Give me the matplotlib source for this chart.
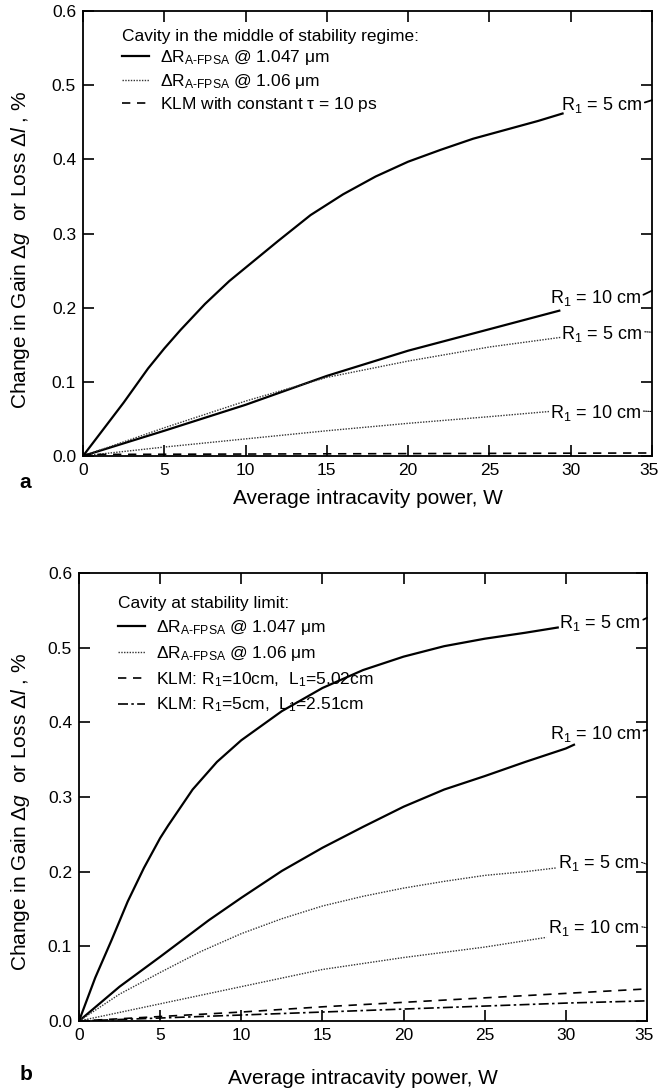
import matplotlib
matplotlib.use("Agg")
import matplotlib.pyplot as plt
import matplotlib.transforms as mtransforms

plt.rcParams['font.family'] = ['Liberation Sans', 'DejaVu Sans']
plt.rcParams['mathtext.fontset'] = 'custom'
plt.rcParams['mathtext.rm'] = 'Liberation Sans'
plt.rcParams['mathtext.it'] = 'Liberation Sans:italic'
plt.rcParams['mathtext.bf'] = 'Liberation Sans:bold'

# ---------------- Panel a data ----------------
a_x_r5_solid = [0, 2.5, 4, 5, 6, 7.5, 9, 10, 12, 14, 16, 18, 20, 22, 24, 26, 28, 29.5]
a_y_r5_solid = [0, 0.072, 0.118, 0.145, 0.17, 0.205, 0.236, 0.254, 0.29, 0.325, 0.353, 0.377, 0.397, 0.413, 0.428, 0.44, 0.452, 0.462]
a_x_r10_solid = [0, 5, 10, 15, 20, 25, 29.3]
a_y_r10_solid = [0, 0.034, 0.069, 0.108, 0.142, 0.171, 0.196]
a_x_r5_dot = [0, 5, 10, 15, 20, 25, 29.4]
a_y_r5_dot = [0, 0.038, 0.074, 0.106, 0.128, 0.147, 0.16]
a_x_r10_dot = [0, 5, 10, 15, 20, 25, 28.7]
a_y_r10_dot = [0, 0.012, 0.023, 0.034, 0.044, 0.053, 0.06]
a_x_klm = [0, 35]
a_y_klm = [0.002, 0.004]

# ---------------- Panel b data ----------------
b_x_r5_solid = [0, 1, 2, 3, 4, 5, 5.5, 7, 8.5, 10, 12.5, 15, 17.5, 20, 22.5, 25, 27.5, 29.5]
b_y_r5_solid = [0, 0.058, 0.108, 0.16, 0.205, 0.245, 0.262, 0.31, 0.347, 0.376, 0.415, 0.446, 0.47, 0.488, 0.502, 0.512, 0.52, 0.527]
b_x_r10_solid = [0, 2.5, 5, 8, 10, 12.5, 15, 17.5, 20, 22.5, 25, 27.5, 30, 30.5]
b_y_r10_solid = [0, 0.046, 0.086, 0.135, 0.165, 0.201, 0.232, 0.26, 0.287, 0.31, 0.328, 0.347, 0.365, 0.37]
b_x_r5_dot = [0, 2.5, 5, 7.5, 10, 12.5, 15, 17.5, 20, 22.5, 25, 27.5, 29.4]
b_y_r5_dot = [0, 0.036, 0.065, 0.093, 0.117, 0.137, 0.154, 0.167, 0.178, 0.187, 0.195, 0.2, 0.205]
b_x_r10_dot = [0, 5, 10, 15, 20, 25, 28.8]
b_y_r10_dot = [0, 0.023, 0.046, 0.069, 0.085, 0.099, 0.112]
b_x_klm10 = [0, 5, 10, 15, 20, 25, 30, 35]
b_y_klm10 = [0, 0.006, 0.012, 0.019, 0.025, 0.031, 0.037, 0.043]
b_x_klm5 = [0, 5, 10, 15, 20, 25, 30, 35]
b_y_klm5 = [0, 0.004, 0.008, 0.012, 0.016, 0.02, 0.024, 0.027]

x_ticks = [0, 5, 10, 15, 20, 25, 30, 35]
y_ticks = [0.0, 0.1, 0.2, 0.3, 0.4, 0.5, 0.6]

lab_fpsa1 = r'$\Delta$R$_{\mathrm{A\text{-}FPSA}}$ @ 1.047 $\mathrm{\mu}$m'
lab_fpsa2 = r'$\Delta$R$_{\mathrm{A\text{-}FPSA}}$ @ 1.06 $\mathrm{\mu}$m'

SOLID = dict(color='black', lw=1.6, ls='-')
DOT = dict(color='#333333', lw=1.0, ls=(0, (1, 1)))
DASH = dict(color='black', lw=1.2, ls=(0, (5, 4)))
DASHDOT = dict(color='black', lw=1.2, ls=(0, (6, 2, 1.5, 2)))

fig = plt.figure(figsize=(6.6, 10.9), dpi=100)
ax1 = fig.add_axes([0.1258, 0.5817, 0.862, 0.408])
ax2 = fig.add_axes([0.1197, 0.0633, 0.8606, 0.411])

def style(ax, labelpad):
    ax.set_xlim(0, 35)
    ax.set_ylim(0, 0.6)
    ax.set_xticks(x_ticks)
    ax.set_yticks(y_ticks)
    ax.set_yticklabels([f'{v:.1f}' for v in y_ticks])
    ax.tick_params(direction='in', top=True, right=True, length=8, width=1.2,
                   labelsize=12.5, pad=5)
    for s in ax.spines.values():
        s.set_linewidth(1.3)
    ax.set_xlabel('Average intracavity power, W', fontsize=15, labelpad=labelpad)
    ax.set_ylabel(r'Change in Gain $\mathit{\Delta g}$  or Loss $\mathit{\Delta l}$ , %', fontsize=15)
    last = ax.get_xticklabels()[-1]
    last.set_transform(last.get_transform() +
                       mtransforms.ScaledTranslation(-3 / 100, 0, fig.dpi_scale_trans))

def label(ax, text, xy_text, xy_spine, lstyle):
    ax.annotate(text, xy=xy_spine, xytext=xy_text, fontsize=13, va='center', ha='left',
                arrowprops=dict(arrowstyle='-', color='black', lw=lstyle['lw'] * 0.8,
                                ls=lstyle['ls'], shrinkA=0, shrinkB=0, relpos=(1, 0.6)))

legend_kw = dict(loc='upper left', frameon=False, fontsize=12.5, title_fontsize=12.5,
                 handlelength=1.6, handletextpad=0.6, borderpad=0,
                 borderaxespad=0, alignment='left')

# ---- Panel a ----
ax = ax1
ax.plot(a_x_r5_solid, a_y_r5_solid, **SOLID, label=lab_fpsa1)
ax.plot(a_x_r10_solid, a_y_r10_solid, **SOLID)
ax.plot(a_x_r5_dot, a_y_r5_dot, **DOT, label=lab_fpsa2)
ax.plot(a_x_r10_dot, a_y_r10_dot, **DOT)
ax.plot(a_x_klm, a_y_klm, **DASH, label=r'KLM with constant $\mathrm{\tau}$ = 10 ps')
handles, labels = ax.get_legend_handles_labels()
style(ax, 8)
ax.yaxis.set_label_coords(-0.089, 0.463)
ax.legend(handles, labels, title='Cavity in the middle of stability regime:',
          bbox_to_anchor=(0.068, 0.96), labelspacing=0.25, **legend_kw)
label(ax, r'R$_1$ = 5 cm', (29.4, 0.473), (35, 0.48), SOLID)
label(ax, r'R$_1$ = 10 cm', (28.7, 0.213), (35, 0.223), SOLID)
label(ax, r'R$_1$ = 5 cm', (29.4, 0.165), (35, 0.167), DOT)
label(ax, r'R$_1$ = 10 cm', (28.7, 0.058), (35, 0.06), DOT)

# ---- Panel b ----
ax = ax2
ax.plot(b_x_r5_solid, b_y_r5_solid, **SOLID, label=lab_fpsa1)
ax.plot(b_x_r10_solid, b_y_r10_solid, **SOLID)
ax.plot(b_x_r5_dot, b_y_r5_dot, **DOT, label=lab_fpsa2)
ax.plot(b_x_r10_dot, b_y_r10_dot, **DOT)
ax.plot(b_x_klm10, b_y_klm10, **DASH, label=r'KLM: R$_1$=10cm,  L$_1$=5.02cm')
ax.plot(b_x_klm5, b_y_klm5, **DASHDOT, label=r'KLM: R$_1$=5cm,  L$_1$=2.51cm')
handles, labels = ax.get_legend_handles_labels()
style(ax, 19)
ax.yaxis.set_label_coords(-0.083, 0.466)
ax.legend(handles, labels, title='Cavity at stability limit:',
          bbox_to_anchor=(0.068, 0.948), labelspacing=0.4, **legend_kw)
label(ax, r'R$_1$ = 5 cm', (29.6, 0.533), (35, 0.54), SOLID)
label(ax, r'R$_1$ = 10 cm', (29.0, 0.385), (35, 0.39), SOLID)
label(ax, r'R$_1$ = 5 cm', (29.5, 0.211), (35, 0.21), DOT)
label(ax, r'R$_1$ = 10 cm', (28.9, 0.124), (35, 0.125), DOT)

fig.text(0.030, 0.557, 'a', fontsize=15, fontweight='bold', ha='left', va='center')
fig.text(0.030, 0.0138, 'b', fontsize=15, fontweight='bold', ha='left', va='center')

fig.savefig('out.png', dpi=100)
